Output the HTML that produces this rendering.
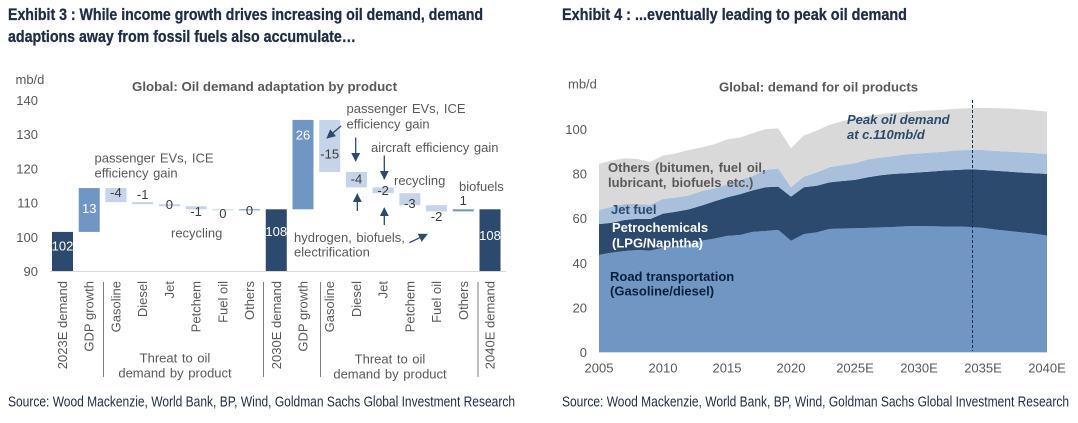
<!DOCTYPE html>
<html lang="en">
<head>
<meta charset="utf-8">
<title>Oil demand exhibits</title>
<style>
html,body{margin:0;padding:0;background:#fff;width:1078px;height:423px;overflow:hidden}
svg{display:block}
text{font-family:"Liberation Sans",Arial,sans-serif;font-size:13px;fill:#595959}
.head{font-weight:700;font-size:17px;fill:#1f2d45;stroke:#1f2d45;stroke-width:.3px}
.src{font-size:14.5px;fill:#1f2d45}
.ct{font-weight:700;fill:#595959}
.al{font-weight:700}
.ws{word-spacing:1px}
</style>
</head>
<body>
<svg id="page" xmlns="http://www.w3.org/2000/svg" width="1078" height="423" viewBox="0 0 1078 423">
  <defs>
    <marker id="ah" viewBox="0 0 10 10" refX="9" refY="5" markerWidth="9" markerHeight="9" markerUnits="userSpaceOnUse" orient="auto"><path d="M0 0L10 5L0 10z" fill="#2c4a6e"/></marker>
  </defs>

  <text class="head" x="8" y="20" textLength="475" lengthAdjust="spacingAndGlyphs">Exhibit 3 : While income growth drives increasing oil demand, demand</text>
  <text class="head" x="8" y="42" textLength="348" lengthAdjust="spacingAndGlyphs">adaptions away from fossil fuels also accumulate…</text>
  <text class="head" x="562" y="20" textLength="345" lengthAdjust="spacingAndGlyphs">Exhibit 4 : ...eventually leading to peak oil demand</text>

  <text x="15.5" y="84">mb/d</text>
  <text class="ct" x="132" y="91" textLength="265" lengthAdjust="spacingAndGlyphs">Global: Oil demand adaptation by product</text>

  <g id="left-chart"></g>

  <g stroke="#7f7f7f" stroke-width="1">
    <line x1="103.5" y1="282" x2="103.5" y2="377"/>
    <line x1="263.5" y1="282" x2="263.5" y2="377"/>
    <line x1="320.5" y1="282" x2="320.5" y2="377"/>
    <line x1="478" y1="282" x2="478" y2="377"/>
  </g>

  <g text-anchor="middle" class="ws">
    <text x="175" y="362.5">Threat to oil</text>
    <text x="175" y="377.5">demand by product</text>
    <text x="390" y="363.5">Threat to oil</text>
    <text x="390" y="378.5">demand by product</text>
  </g>

  <g class="ws">
    <text x="94.5" y="162.5">passenger EVs, ICE</text>
    <text x="94.5" y="177.5">efficiency gain</text>
    <text x="171" y="237.5">recycling</text>
    <text x="346.5" y="113">passenger EVs, ICE</text>
    <text x="346.5" y="128.5">efficiency gain</text>
    <text x="371" y="152">aircraft efficiency gain</text>
    <text x="394" y="185">recycling</text>
    <text x="459" y="191">biofuels</text>
    <text x="294" y="242">hydrogen, biofuels,</text>
    <text x="294" y="256.5">electrification</text>
  </g>

  <g stroke="#2c4a6e" stroke-width="1.3" fill="none">
    <line x1="341" y1="126" x2="327" y2="138" marker-end="url(#ah)"/>
    <line x1="355.7" y1="137.5" x2="355.7" y2="161" marker-end="url(#ah)"/>
    <line x1="384.3" y1="155.5" x2="384.3" y2="179" marker-end="url(#ah)"/>
    <line x1="357.3" y1="211" x2="357.3" y2="194" marker-end="url(#ah)"/>
    <line x1="384.3" y1="225" x2="384.3" y2="208" marker-end="url(#ah)"/>
    <line x1="409.3" y1="242.7" x2="427" y2="234.3" marker-end="url(#ah)"/>
  </g>

  <text class="src" x="8" y="406.5" textLength="507" lengthAdjust="spacingAndGlyphs">Source: Wood Mackenzie, World Bank, BP, Wind, Goldman Sachs Global Investment Research</text>

  <text x="568" y="88.5">mb/d</text>
  <text class="ct" x="719" y="91.5" textLength="199" lengthAdjust="spacingAndGlyphs">Global: demand for oil products</text>

  <g id="right-chart"></g>

  <g>
    <text class="al" x="608" y="172" style="fill:#595959;word-spacing:1.5px">Others (bitumen, fuel oil,</text>
    <text class="al" x="608" y="187" style="fill:#595959;word-spacing:1.5px">lubricant, biofuels etc.)</text>
    <text class="al" x="611" y="214" style="fill:#2c4a6e">Jet fuel</text>
    <text class="al" x="612" y="232" style="fill:#ffffff">Petrochemicals</text>
    <text class="al" x="612" y="247.5" style="fill:#ffffff">(LPG/Naphtha)</text>
    <text class="al" x="610" y="281" style="fill:#0b1f3a">Road transportation</text>
    <text class="al" x="610" y="295.5" style="fill:#0b1f3a">(Gasoline/diesel)</text>
    <text class="al" x="847" y="124" font-style="italic" style="fill:#2c4a6e">Peak oil demand</text>
    <text class="al" x="847" y="139" font-style="italic" style="fill:#2c4a6e">at c.110mb/d</text>
  </g>

  <line x1="972.5" y1="100" x2="972.5" y2="351" stroke="#0b3560" stroke-width="1" stroke-dasharray="3 2"/>

  <text class="src" x="562" y="406.5" textLength="507" lengthAdjust="spacingAndGlyphs">Source: Wood Mackenzie, World Bank, BP, Wind, Goldman Sachs Global Investment Research</text>
</svg>

<script>
// ---- Waterfall data (Exhibit 3) ----
const wfCategories = ['2023E demand','GDP growth','Gasoline','Diesel','Jet','Petchem','Fuel oil','Others','2030E demand','GDP growth','Gasoline','Diesel','Jet','Petchem','Fuel oil','Others','2040E demand'];
const wfKinds = ['total','delta','delta','delta','delta','delta','delta','delta','total','delta','delta','delta','delta','delta','delta','delta','total'];
const wfValues = [101.5,12.8,-4.1,-0.6,-0.6,-0.9,-0.3,0.3,108.1,26.1,-15.2,-4.5,-1.7,-3.5,-1.8,0.6,108.1];
const wfLabels = ['102','13','-4','-1','0','-1','0','0','108','26','-15','-4','-2','-3','-2','1','108'];
const wfTicks = [90,100,110,120,130,140];

// ---- Stacked area data (Exhibit 4) ----
const years = [2005,2006,2007,2008,2009,2010,2011,2012,2013,2014,2015,2016,2017,2018,2019,2020,2021,2022,2023,2024,2025,2026,2027,2028,2029,2030,2031,2032,2033,2034,2035,2036,2037,2038,2039,2040];
const roadValues = [43.7,44.7,45.4,45.9,45.6,46.9,47.5,48.3,50,51,52.2,52.6,54,54.4,54.9,50,53,53.8,55.3,55.5,55.6,55.8,56,56.2,56.5,56.6,56.5,56.4,56.4,56.2,55.8,55,54.4,53.8,53.2,52.3];
const petchemValues = [13.8,13.4,13.9,14,14.2,15.3,15.5,15.8,15.8,16.7,17.3,18.3,18.6,19.6,19.4,19.8,21,20.9,20.9,21.3,21.7,22.7,23.4,23.8,23.8,24.1,24.6,25.1,25.4,25.9,26,26.4,26.6,26.8,27.1,27.7];
const jetValues = [6.3,7.2,7.2,6.6,6.3,6.6,6.4,6.2,6.5,5.8,5.7,6.4,6.4,7.8,8.1,4.2,4.8,5.9,6.8,7.2,7.5,8,7.9,8,8.5,8.5,8.5,8.5,8.8,8.6,8.9,8.9,9,9.1,9.1,8.9];
const othersValues = [20.7,20.7,20.5,20.2,19.3,19.4,19.8,20.4,19.6,19.8,20.3,19,19.2,18.3,18,17.5,18.4,18.8,19,19.6,20.2,19.5,19.5,19.4,18.9,19,18.9,18.8,18.6,18.8,18.9,19.2,19.3,19.3,19.1,19];
const areaTicks = [0,20,40,60,80,100];
const yearTickLabels = ['2005','2010','2015','2020','2025E','2030E','2035E','2040E'];

const SVGNS = 'http://www.w3.org/2000/svg';
function mk(parent, tag, attrs, txt) {
  const el = document.createElementNS(SVGNS, tag);
  for (const k in attrs) el.setAttribute(k, attrs[k]);
  if (txt !== undefined) el.textContent = txt;
  parent.appendChild(el);
  return el;
}

// Axis functions
function wfX(i) { return 62.5 + i * 26.72; }
function wfY(v) { return 271.3 - (v - 90) * 3.425; }
function arX(y) { return 599 + (y - 2005) * 12.8; }
function arY(v) { return 352.3 - v * 2.23; }

// Waterfall label placement below each bar top (styling only)
const wfLabelDy = [14,20,4,-8,0,5,4,1,22,15,34,7,3,10,11,-9,26];

(function drawWaterfall() {
  const g = document.getElementById('left-chart');
  wfTicks.forEach(function (t) {
    const el = mk(g, 'text', {x: 38, y: wfY(t) + 4.7, 'text-anchor': 'end'}, String(t));
    
    
  });
  let level = 0;
  const labelQueue = [];
  wfValues.forEach(function (v, i) {
    let hi, lo, fill, txt;
    if (wfKinds[i] === 'total') {
      level = v; hi = v; lo = 90; fill = '#2c4a6e'; txt = '#ffffff';
    } else if (v >= 0) {
      lo = level; level += v; hi = level; fill = '#7096c4'; txt = '#ffffff';
    } else {
      hi = level; level += v; lo = level; fill = '#c5d4e8'; txt = '#3a3a3a';
    }
    const top = wfY(hi);
    const rect = mk(g, 'rect', {x: wfX(i) - 10.5, y: top, width: 21, height: Math.max(wfY(lo) - top, 1), fill: fill});
    
    
    const small = Math.abs(v) < 3 || i === 15;
    labelQueue.push({i: i, y: top + wfLabelDy[i] + 4.7, color: small && wfKinds[i] !== 'total' ? '#3a3a3a' : txt});
  });
  const axis = mk(g, 'line', {x1: 50, x2: 506, y1: 271.5, y2: 271.5, stroke: '#d9d9d9', 'stroke-width': 1});
  
  
  labelQueue.forEach(function (q) {
    const t = mk(g, 'text', {x: wfX(q.i), y: q.y, 'text-anchor': 'middle', style: 'fill:' + q.color}, wfLabels[q.i]);
    
    
  });
  wfCategories.forEach(function (c, i) {
    const x = wfX(i) + 4.5;
    const t = mk(g, 'text', {x: x, y: 281, 'text-anchor': 'end', transform: 'rotate(-90 ' + x + ' 281)'}, c);
    
    
  });
})();

(function drawAreas() {
  const g = document.getElementById('right-chart');
  const seriesList = [
    {name: 'area-road-transportation', vals: roadValues, fill: '#7096c4'},
    {name: 'area-petrochemicals', vals: petchemValues, fill: '#2c4a6e'},
    {name: 'area-jet-fuel', vals: jetValues, fill: '#a8c0dc'},
    {name: 'area-others', vals: othersValues, fill: '#d9d9d9'}
  ];
  let base = years.map(function () { return 0; });
  seriesList.forEach(function (s) {
    const top = base.map(function (b, i) { return b + s.vals[i]; });
    let d = '';
    years.forEach(function (y, i) { d += (i ? 'L' : 'M') + arX(y).toFixed(2) + ' ' + arY(top[i]).toFixed(2); });
    for (let i = years.length - 1; i >= 0; i--) d += 'L' + arX(years[i]).toFixed(2) + ' ' + arY(base[i]).toFixed(2);
    d += 'Z';
    const p = mk(g, 'path', {d: d, fill: s.fill});
    
    
    base = top;
  });
  const axis = mk(g, 'line', {x1: arX(2005), x2: arX(2040), y1: 352.5, y2: 352.5, stroke: '#d9d9d9', 'stroke-width': 1});
  
  
  areaTicks.forEach(function (t) {
    const el = mk(g, 'text', {x: 587, y: arY(t) + 4.7, 'text-anchor': 'end'}, String(t));
    
    
  });
  yearTickLabels.forEach(function (lab, i) {
    const yr = parseInt(lab, 10);
    const el = mk(g, 'text', {x: arX(yr), y: 372.5, 'text-anchor': 'middle'}, lab);
    
    
  });
})();
</script>
</body>
</html>
